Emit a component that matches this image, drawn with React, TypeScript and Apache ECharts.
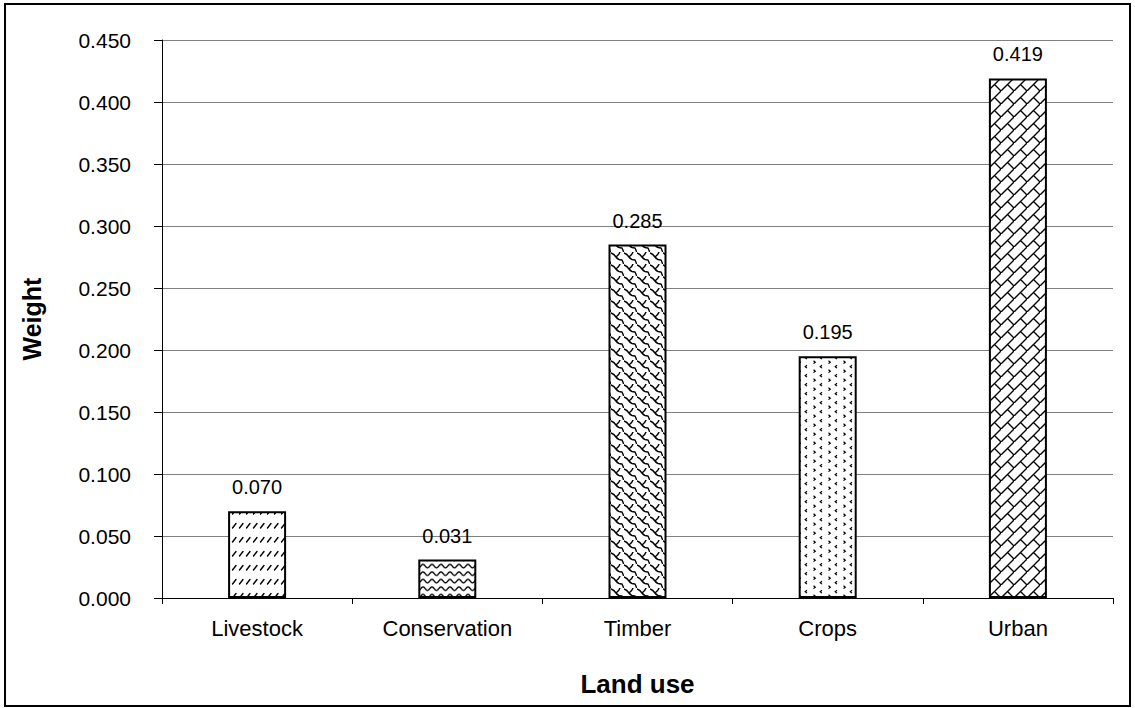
import React, { useEffect, useRef } from "react";
import * as echarts from "echarts";

const categories = ["Livestock", "Conservation", "Timber", "Crops", "Urban"];
const weights = [0.07, 0.031, 0.285, 0.195, 0.419];
const yTicks = { min: 0, max: 0.45, interval: 0.05 };

const FONT = "'Liberation Sans', Arial, sans-serif";

function svgTile(w: number, h: number, body: string) {
  const svg = `<svg xmlns="http://www.w3.org/2000/svg" width="${w}" height="${h}" viewBox="0 0 ${w} ${h}"><rect width="${w}" height="${h}" fill="white"/>${body}</svg>`;
  return {
    image: "data:image/svg+xml;charset=utf-8," + encodeURIComponent(svg),
    repeat: "repeat",
    imageWidth: w,
    imageHeight: h,
  } as any;
}

const stroke = `fill="none" stroke="black" stroke-width="1.4" stroke-linecap="round"`;

const patterns = [
  // Livestock: short diagonal dashes
  svgTile(7, 14, `<path d="M1.5 10 L5 5.5" ${stroke}/>`),
  // Conservation: zigzag waves
  svgTile(9, 7.5, `<path d="M0 1.8 C2 1.8 2.5 5.5 4.5 5.5 C6.5 5.5 7 1.8 9 1.8" ${stroke}/>`),
  // Timber: shingle
  svgTile(13, 12, `<path d="M0 1 Q3 2 5 5 Q7 8 11 8 M11 8 Q12 10 13 13 M5 5 Q8 3 9 0" ${stroke}/>`),
  // Crops: small chevrons
  svgTile(15, 9, `<path d="M3.5 0.8 L5.3 2.2 L3.5 3.6 M12 5.3 L10.2 6.7 L12 8.1" fill="none" stroke="black" stroke-width="1.2"/>`),
  // Urban: diagonal brick
  svgTile(13, 13, `<path d="M0 13 L13 0 M6.5 6.5 L13 13" ${stroke}/>`),
];

export default function App() {
  const ref = useRef<HTMLDivElement>(null);
  useEffect(() => {
    document.body.style.margin = "0";
    const chart = echarts.init(ref.current!, null, { renderer: "svg" });
    chart.setOption({
      animation: false,
      backgroundColor: "#ffffff",
      textStyle: { fontFamily: FONT },
      grid: { left: 162, right: 22, top: 40, bottom: 110 },
      graphic: [
        {
          type: "rect",
          shape: { x: 5, y: 4, width: 1125, height: 702 },
          style: { fill: "none", stroke: "#000", lineWidth: 2 },
          z: 100,
        },
      ],
      xAxis: {
        type: "category",
        data: categories,
        boundaryGap: true,
        name: "Land use",
        nameLocation: "middle",
        nameGap: 73,
        nameTextStyle: { fontFamily: FONT, fontSize: 26, fontWeight: "bold", color: "#000" },
        axisLine: { lineStyle: { color: "#000", width: 1 } },
        axisTick: { show: true, length: 6, alignWithLabel: false, lineStyle: { color: "#000" } },
        axisLabel: { fontFamily: FONT, fontSize: 22, color: "#000", margin: 19 },
      },
      yAxis: {
        type: "value",
        min: yTicks.min,
        max: yTicks.max,
        interval: yTicks.interval,
        name: "Weight",
        nameLocation: "middle",
        nameRotate: 90,
        nameGap: 118,
        nameTextStyle: { fontFamily: FONT, fontSize: 25, fontWeight: "bold", color: "#000" },
        axisLine: { show: true, lineStyle: { color: "#000", width: 1 } },
        axisTick: { show: true, length: 8, lineStyle: { color: "#000" } },
        axisLabel: {
          fontFamily: FONT,
          fontSize: 21,
          color: "#000",
          margin: 31,
          formatter: (v: number) => v.toFixed(3),
        },
        splitLine: { show: true, lineStyle: { color: "#808080", width: 1 } },
      },
      series: [
        {
          type: "bar",
          barWidth: 58,
          data: weights.map((v, i) => ({
            value: v,
            itemStyle: { color: patterns[i], borderColor: "#000", borderWidth: 2 },
          })),
          label: {
            show: true,
            position: "top",
            distance: 14,
            fontFamily: FONT,
            fontSize: 20,
            color: "#000",
            formatter: (p: any) => Number(p.value).toFixed(3),
          },
        },
      ],
    });
    return () => chart.dispose();
  }, []);
  return <div ref={ref} style={{ width: 1135, height: 708 }} />;
}
